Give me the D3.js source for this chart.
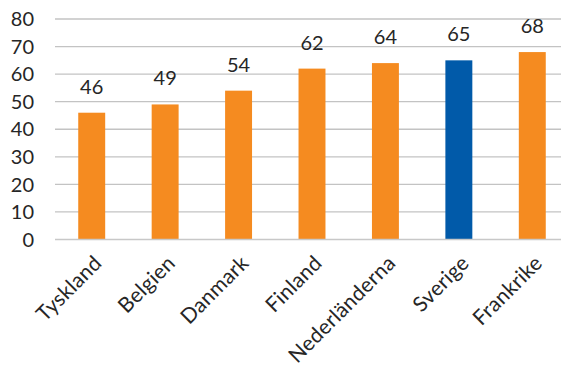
<!DOCTYPE html>
<html>
<head>
<meta charset="utf-8">
<script src="https://cdn.jsdelivr.net/npm/d3@7"></script>
<style>
  html, body { margin: 0; padding: 0; background: #fff; }
  svg { display: block; }
  text { font-family: Lato, "Noto Sans", sans-serif; fill: #262626; }
</style>
</head>
<body>
<svg id="chart" width="561" height="369"></svg>
<script>
// Countries along the x axis
const countries = ["Tyskland", "Belgien", "Danmark", "Finland", "Nederländerna", "Sverige", "Frankrike"];
// One value per country
const values = [46, 49, 54, 62, 64, 65, 68];
// Highlighted country
const highlight = "Sverige";
// Y-axis ticks
const yTicks = [0, 10, 20, 30, 40, 50, 60, 70, 80];

const svg = d3.select("#chart");

const x = d3.scaleBand()
  .domain(countries)
  .range([55, 569])
  .paddingInner(0.633)
  .paddingOuter(0.3165);

const y = d3.scaleLinear()
  .domain([0, 80])
  .range([239.5, 19]);

// Horizontal gridlines
svg.append("g")
  .selectAll("line")
  .data(yTicks.filter(d => d > 0))
  .join("line")
  .attr("x1", 55).attr("x2", 561)
  .attr("y1", d => y(d)).attr("y2", d => y(d))
  .attr("stroke", "#c3c3c3")
  .attr("stroke-width", 1.3);

// Y-axis tick labels
svg.append("g")
  .selectAll("text")
  .data(yTicks)
  .join("text")
  .attr("x", 34)
  .attr("y", d => y(d))
  .attr("dy", "0.36em")
  .attr("text-anchor", "end")
  .attr("font-size", 20)
  .text(d => d);

// Bars
svg.append("g")
  .selectAll("rect")
  .data(countries)
  .join("rect")
  .attr("x", d => x(d))
  .attr("width", x.bandwidth())
  .attr("y", (d, i) => y(values[i]))
  .attr("height", (d, i) => y(0) - y(values[i]))
  .attr("fill", d => d === highlight ? "#015aa9" : "#f58b20");

// Baseline
svg.append("line")
  .attr("x1", 55).attr("x2", 561)
  .attr("y1", y(0)).attr("y2", y(0))
  .attr("stroke", "#c8c8c8")
  .attr("stroke-width", 1.5);

// Value labels above bars
svg.append("g")
  .selectAll("text")
  .data(countries)
  .join("text")
  .attr("x", d => x(d) + x.bandwidth() / 2)
  .attr("y", (d, i) => y(values[i]) - 19)
  .attr("text-anchor", "middle")
  .attr("font-size", 20)
  .text((d, i) => values[i]);

// Rotated category labels
svg.append("g")
  .selectAll("text")
  .data(countries)
  .join("text")
  .attr("text-anchor", "end")
  .attr("font-size", 21)
  .attr("letter-spacing", 0.3)
  .attr("transform", d => `translate(${x(d) + x.bandwidth() / 2 + 1},${254}) rotate(-45)`)
  .attr("dy", "0.7em")
  .text(d => d);
</script>
</body>
</html>
